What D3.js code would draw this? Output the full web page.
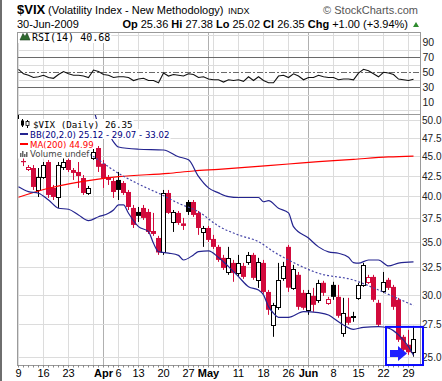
<!DOCTYPE html>
<html>
<head>
<meta charset="utf-8">
<script src="https://cdn.jsdelivr.net/npm/d3@7"></script>
<style>
	body { margin: 0; background: #fff; }
	svg { display: block; }
</style>
</head>
<body>
<div id="chart-area"></div>
<script>
// trading days shown on the chart
var dates = [
	"2009-03-09","2009-03-10","2009-03-11","2009-03-12","2009-03-13","2009-03-16","2009-03-17","2009-03-18","2009-03-19","2009-03-20",
	"2009-03-23","2009-03-24","2009-03-25","2009-03-26","2009-03-27","2009-03-30","2009-03-31","2009-04-01","2009-04-02","2009-04-03",
	"2009-04-06","2009-04-07","2009-04-08","2009-04-09","2009-04-13","2009-04-14","2009-04-15","2009-04-16","2009-04-17","2009-04-20",
	"2009-04-21","2009-04-22","2009-04-23","2009-04-24","2009-04-27","2009-04-28","2009-04-29","2009-04-30","2009-05-01","2009-05-04",
	"2009-05-05","2009-05-06","2009-05-07","2009-05-08","2009-05-11","2009-05-12","2009-05-13","2009-05-14","2009-05-15","2009-05-18",
	"2009-05-19","2009-05-20","2009-05-21","2009-05-22","2009-05-26","2009-05-27","2009-05-28","2009-05-29","2009-06-01","2009-06-02",
	"2009-06-03","2009-06-04","2009-06-05","2009-06-08","2009-06-09","2009-06-10","2009-06-11","2009-06-12","2009-06-15","2009-06-16",
	"2009-06-17","2009-06-18","2009-06-19","2009-06-22","2009-06-23","2009-06-24","2009-06-25","2009-06-26","2009-06-29","2009-06-30"
];

var opens = [
	48.8, 44.35, 43.33, 43.45, 40.75, 42.32, 44.22, 40.99, 39.92, 43.58,
	44.48, 43.20, 42.95, 42.20, 40.39, 44.74, 46.07, 44.00, 42.32, 41.83,
	41.96, 41.59, 40.51, 38.66, 38.21, 38.66, 38.21, 36.14, 35.41, 33.99,
	40.39, 37.11, 38.10, 36.95, 39.34, 39.34, 38.10, 36.04, 36.46, 35.31,
	34.50, 33.41, 32.06, 32.92, 31.97, 32.63, 33.02, 33.70, 31.33, 32.92,
	30.24, 27.47, 28.95, 31.51, 34.50, 30.60, 31.79, 30.16, 28.70, 29.89,
	29.55, 31.06, 29.29, 30.87, 29.81, 26.83, 28.12, 28.08, 29.72, 30.87,
	31.15, 31.60, 29.29, 30.33, 31.33, 30.69, 29.55, 26.52, 25.91, 25.36
];

var highs = [
	51.9, 45.80, 43.83, 43.83, 43.45, 44.22, 44.48, 41.35, 44.22, 44.74,
	44.87, 43.45, 44.22, 42.57, 41.23, 46.34, 46.34, 44.48, 42.57, 42.20,
	42.95, 41.83, 40.75, 39.00, 38.77, 39.00, 38.55, 38.10, 35.63, 40.75,
	40.75, 38.43, 38.32, 37.55, 39.57, 39.57, 38.32, 36.68, 36.68, 35.73,
	34.70, 33.70, 34.50, 33.21, 33.70, 32.92, 33.99, 33.90, 33.41, 33.21,
	30.42, 29.29, 32.92, 33.02, 34.70, 32.73, 32.06, 30.42, 30.42, 30.60,
	31.33, 31.24, 29.81, 31.15, 30.87, 29.72, 29.72, 28.53, 31.06, 32.92,
	31.79, 31.79, 29.55, 32.06, 31.51, 30.87, 29.72, 26.67, 27.07, 27.38
];

var lows = [
	48.3, 43.70, 43.07, 40.75, 39.92, 42.08, 39.81, 39.57, 38.66, 43.20,
	42.95, 41.96, 40.99, 40.16, 40.16, 44.48, 42.95, 40.99, 41.35, 39.81,
	39.57, 40.16, 38.43, 36.46, 37.11, 37.33, 35.83, 35.63, 33.70, 33.70,
	37.99, 36.04, 36.79, 36.25, 37.88, 37.66, 35.73, 34.50, 35.00, 34.29,
	33.02, 32.25, 31.79, 31.15, 31.60, 31.42, 32.73, 31.33, 30.60, 30.07,
	28.28, 26.52, 28.70, 31.24, 30.24, 30.42, 28.70, 28.70, 28.28, 28.53,
	29.29, 29.89, 29.12, 29.55, 28.04, 26.52, 27.47, 27.71, 29.55, 30.69,
	30.96, 29.38, 27.31, 30.16, 30.42, 28.70, 26.13, 25.16, 25.16, 25.02
];

var closes = [
	49.68, 44.22, 43.58, 41.11, 42.32, 43.83, 40.16, 39.92, 43.83, 44.22,
	43.20, 42.83, 42.45, 40.39, 40.99, 45.54, 43.60, 42.20, 41.96, 40.51,
	40.75, 40.39, 38.77, 36.79, 37.77, 37.55, 36.04, 35.83, 33.94, 40.39,
	38.10, 38.21, 37.00, 36.68, 38.21, 37.88, 36.46, 36.51, 35.21, 34.50,
	33.21, 32.44, 33.41, 31.97, 32.92, 31.60, 33.70, 31.51, 33.02, 30.24,
	28.70, 29.12, 31.33, 32.63, 30.62, 32.35, 28.95, 28.87, 30.16, 29.12,
	31.06, 30.16, 29.63, 29.81, 28.20, 28.45, 27.63, 28.16, 30.87, 32.73,
	31.60, 29.55, 27.47, 31.15, 30.60, 28.95, 26.29, 25.53, 25.35, 26.35
];

var rsi14 = [
	54, 48, 46, 43, 44, 46, 43, 42, 47, 51,
	48, 46, 46, 45, 43, 53, 51, 47, 46, 43,
	44, 44, 43, 39, 41, 42, 39, 39, 36, 49,
	45, 47, 46, 45, 48, 47, 43, 44, 41, 40,
	40, 37, 40, 39, 40, 38, 44, 39, 44, 39,
	36, 36, 45, 46, 43, 48, 45, 40, 43, 43,
	46, 44, 43, 43, 40, 41, 41, 40, 49, 54,
	52, 48, 44, 50, 49, 47, 41, 40, 39, 40.68
];

// Bollinger bands (20,2.0) and 200 day moving average, [day index, value]
var bbUpper = [
	[0,58],[8,56],[14,53],[15,51.6],[16,49.3],[18,48.1],[19,46.9],[20,46.2],[24,45.9],[29,45.8],
	[32,44.9],[34,44.5],[36,42.4],[38,41.0],[40,40.4],[42,39.96],[44,39.86],[48,39.86],[49,39.37],[50,39.49],
	[52,38.63],[54,38.1],[55,36.6],[58,35.4],[60,34.5],[62,34.0],[64,33.86],[66,33.47],[67,32.94],[68,32.89],
	[70,33.2],[72,33.2],[74,32.63],[76,32.9],[79,33.02]
];
var bbMiddle = [
	[0,48.5],[8,47.5],[15,44.92],[20,42.78],[24,41.46],[26,40.89],[28,40.36],[32,39.19],[36,38.24],[40,36.67],
	[44,35.72],[48,35.03],[51,34.02],[54,33.2],[60,31.94],[67,31.31],[72,30.41],[75,29.83],[79,29.07]
];
var bbLower = [
	[0,41.14],[2,40.55],[4,40.36],[6,39.57],[8,38.63],[10,38.51],[12,37.87],[14,37.25],[16,37.68],[18,38.06],
	[19,38.43],[20,39.0],[21,39.0],[22,38.06],[24,36.6],[26,36.07],[27,34.86],[28,34.02],[30,33.88],[32,33.65],
	[33,33.2],[35,33.7],[36,34.02],[38,34.09],[40,33.45],[42,32.56],[44,31.62],[46,30.71],[48,30.41],[49,29.98],
	[50,28.97],[51,28.41],[52,28.08],[54,28.08],[57,28.55],[60,28.46],[62,28.27],[63,28.0],[65,27.46],[67,27.11],
	[69,27.27],[72,27.32],[74,27.2],[76,26.67],[78,25.77],[79,25.12]
];
var ma200 = [
	[0,39.89],[6,40.95],[16,42.07],[20,42.36],[30,42.78],[35,43.07],[40,43.28],[54,43.96],[60,44.26],[67,44.57],
	[74,44.88],[79,44.99]
];

var priceTicks = [25, 27.5, 30, 32.5, 35, 37.5, 40, 42.5, 45, 47.5, 50];
var rsiTicks = [10, 30, 50, 70, 90];
var rsiGrid = [0, 20, 40, 60, 80, 100];
var tickIndex = [0, 5, 10, 17, 20, 24, 29, 34, 38, 44, 49, 54, 58, 63, 68, 73, 78];
var tickText = ["9", "16", "23", "Apr", "6", "13", "20", "27", "May", "11", "18", "26", "Jun", "8", "15", "22", "29"];

const svgWidth = 442;
const svgHeight = 381;
const plotLeft = 17, plotRight = 420;
const rsiTop = 32, rsiBottom = 114;
const priceTop = 114, priceBottom = 365;
const red = "#d20a3c";
const navy = "#24248f";

var last = closes.length - 1;

var canvas = d3.select("#chart-area").append("svg")
	.attr("width", svgWidth)
	.attr("height", svgHeight)
	.style("font-family", "'Liberation Sans', Arial, sans-serif");

canvas.append("rect")
	.attr("x", 0).attr("y", 0)
	.attr("width", 2).attr("height", svgHeight)
	.attr("fill", "#6e6e6e");

var xScale = d3.scaleLinear()
	.domain([0, last])
	.range([18.5, 18.5 + 5 * last]);

var yScale = d3.scaleLog()
	.domain([50, 25])
	.range([120, 357]);

var rsiScale = d3.scaleLinear()
	.domain([0, 100])
	.range([109.8, 34.8]);

// ---- header
canvas.append("text")
	.attr("x", 17).attr("y", 14)
	.attr("font-size", 13).attr("font-weight", "bold")
	.text("$VIX");
canvas.append("text")
	.attr("x", 48).attr("y", 14)
	.attr("font-size", 11)
	.text("(Volatility Index - New Methodology)");
canvas.append("text")
	.attr("x", 228).attr("y", 14)
	.attr("font-size", 9)
	.text("INDX");
canvas.append("text")
	.attr("x", 418).attr("y", 14)
	.attr("text-anchor", "end")
	.attr("font-size", 11)
	.attr("fill", "#555")
	.text("\u00a9 StockCharts.com");

canvas.append("text")
	.attr("x", 17).attr("y", 27.5)
	.attr("font-size", 11)
	.text("30-Jun-2009");

var chg = closes[last] - closes[last - 1];
var quoteLabels = ["Op", "Hi", "Lo", "Cl", "Chg"];
var quoteValues = [
	opens[last].toFixed(2), highs[last].toFixed(2), lows[last].toFixed(2), closes[last].toFixed(2),
	d3.format("+.2f")(chg) + " (" + d3.format("+.2f")(chg / closes[last - 1] * 100) + "%)"
];
var quote = canvas.append("text")
	.attr("x", 408).attr("y", 27.5)
	.attr("text-anchor", "end")
	.attr("font-size", 11);
quoteLabels.forEach((lab, i) => {
	quote.append("tspan").attr("font-weight", "bold").text((i ? " " : "") + lab + " ");
	quote.append("tspan").text(quoteValues[i]);
});
canvas.append("path")
	.attr("d", "M413,27 L416,22 L419,27 Z")
	.attr("fill", "#2e8b2e");

// ---- grid lines
var days = dates.map(d3.timeParse("%Y-%m-%d"));
var weekStarts = [], monthStarts = [];
days.forEach((d, i) => {
	if (i == 0 || d.getDay() < days[i - 1].getDay()) weekStarts.push(i);
	if (i > 0 && d.getMonth() != days[i - 1].getMonth()) monthStarts.push(i);
});

[[rsiTop, rsiBottom], [priceTop, priceBottom]].forEach(p => {
	canvas.append("g").selectAll("line").data(weekStarts).enter()
		.append("line")
		.attr("x1", d => xScale(d)).attr("x2", d => xScale(d))
		.attr("y1", p[0]).attr("y2", p[1])
		.attr("stroke", "#dcdcdc");
	canvas.append("g").selectAll("line").data(monthStarts).enter()
		.append("line")
		.attr("x1", d => xScale(d)).attr("x2", d => xScale(d))
		.attr("y1", p[0]).attr("y2", p[1])
		.attr("stroke", "#b0b0b0");
});

canvas.append("g").selectAll("line").data(rsiGrid).enter()
	.append("line")
	.attr("x1", plotLeft).attr("x2", plotRight)
	.attr("y1", d => Math.round(rsiScale(d)) + 0.5).attr("y2", d => Math.round(rsiScale(d)) + 0.5)
	.attr("stroke", "#dcdcdc");

canvas.append("g").selectAll("line").data([30, 50, 70]).enter()
	.append("line")
	.attr("x1", plotLeft).attr("x2", plotRight)
	.attr("y1", d => Math.round(rsiScale(d)) + 0.5).attr("y2", d => Math.round(rsiScale(d)) + 0.5)
	.attr("stroke", "#6a6a6a")
	.attr("stroke-dasharray", d => d == 50 ? "6,2,2,2" : null);

canvas.append("g").selectAll("line").data(priceTicks).enter()
	.append("line")
	.attr("x1", plotLeft).attr("x2", plotRight)
	.attr("y1", d => Math.round(yScale(d)) + 0.5).attr("y2", d => Math.round(yScale(d)) + 0.5)
	.attr("stroke", "#dcdcdc");

// ---- right axis labels (kept narrow enough to fit the window)
canvas.append("g").selectAll("text").data(rsiTicks).enter()
	.append("text")
	.attr("x", 422.5).attr("y", d => rsiScale(d) + 4)
	.attr("font-size", 10.5).attr("fill", "#222")
	.text(d => d);

canvas.append("g").selectAll("text").data(priceTicks).enter()
	.append("text")
	.attr("x", 422).attr("y", d => yScale(d) + 4)
	.attr("font-size", 10).attr("fill", "#222")
	.attr("textLength", 19.5).attr("lengthAdjust", "spacingAndGlyphs")
	.text(d => d3.format(".1f")(d));

// ---- RSI line
canvas.append("path")
	.datum(rsi14)
	.attr("fill", "none")
	.attr("stroke", "#111")
	.attr("stroke-width", 1.1)
	.attr("d", d3.line().x((d, i) => xScale(i)).y(d => rsiScale(d)));

// ---- price panel
canvas.append("defs").append("clipPath")
	.attr("id", "priceClip")
	.append("rect")
	.attr("x", plotLeft).attr("y", priceTop)
	.attr("width", plotRight - plotLeft).attr("height", priceBottom - priceTop);

var chart = canvas.append("g").attr("clip-path", "url(#priceClip)");

var candles = chart.selectAll("g.candle").data(closes).enter()
	.append("g")
	.attr("class", "candle")
	.each(function (c, i) {
		var o = opens[i];
		var prev = i > 0 ? closes[i - 1] : o;
		var color = c >= prev ? "#000" : red;
		var hollow = c > o;
		var x = xScale(i);
		var top = yScale(Math.max(o, c)), bot = yScale(Math.min(o, c));
		var g = d3.select(this);
		g.append("line")
			.attr("x1", x).attr("x2", x)
			.attr("y1", yScale(highs[i])).attr("y2", yScale(lows[i]))
			.attr("stroke", color);
		if (hollow) {
			g.append("rect")
				.attr("x", x - 2).attr("y", Math.round(top) + 0.5)
				.attr("width", 4).attr("height", Math.max(1, Math.round(bot - top)))
				.attr("fill", "#fff")
				.attr("stroke", color);
		} else {
			g.append("rect")
				.attr("x", x - 2.5).attr("y", top)
				.attr("width", 5).attr("height", Math.max(1.2, bot - top))
				.attr("fill", color);
		}
	});

var bandLine = d3.line()
	.x(d => xScale(d[0]))
	.y(d => yScale(d[1]))
	.curve(d3.curveMonotoneX);

chart.append("path").datum(ma200)
	.attr("fill", "none").attr("stroke", "#ff0000").attr("stroke-width", 1.2)
	.attr("d", bandLine);
chart.append("path").datum(bbMiddle)
	.attr("fill", "none").attr("stroke", "#4646a8").attr("stroke-width", 1.2)
	.attr("stroke-dasharray", "2,2")
	.attr("d", bandLine);
[bbUpper, bbLower].forEach(b => {
	chart.append("path").datum(b)
		.attr("fill", "none").attr("stroke", navy).attr("stroke-width", 1.2)
		.attr("d", bandLine);
});

// ---- frames
canvas.append("rect")
	.attr("x", plotLeft + 0.5).attr("y", rsiTop + 0.5)
	.attr("width", plotRight - plotLeft).attr("height", rsiBottom - rsiTop)
	.attr("fill", "none").attr("stroke", "#9a9a9a");
canvas.append("rect")
	.attr("x", plotLeft + 0.5).attr("y", priceTop + 0.5)
	.attr("width", plotRight - plotLeft).attr("height", priceBottom - priceTop)
	.attr("fill", "none").attr("stroke", "#9a9a9a");

// ---- x axis
canvas.append("g").selectAll("line").data(closes).enter()
	.append("line")
	.attr("x1", (d, i) => xScale(i)).attr("x2", (d, i) => xScale(i))
	.attr("y1", priceBottom).attr("y2", priceBottom + 2.5)
	.attr("stroke", "#888");

canvas.append("g").selectAll("text").data(tickIndex).enter()
	.append("text")
	.attr("x", d => xScale(d))
	.attr("y", 377)
	.attr("text-anchor", "middle")
	.attr("font-size", 11)
	.attr("font-weight", (d, i) => isNaN(+tickText[i]) ? "bold" : "normal")
	.text((d, i) => tickText[i]);

// ---- legends
var rsiLegend = canvas.append("g");
var rsiText = rsiLegend.append("text")
	.attr("x", 32).attr("y", 41)
	.attr("font-family", "'DejaVu Sans Mono', monospace")
	.attr("font-size", 10)
	.text("RSI(14) " + rsi14[last].toFixed(2));
rsiLegend.insert("rect", "text")
	.attr("x", 18).attr("y", 33)
	.attr("width", 15 + rsiText.node().getComputedTextLength()).attr("height", 10)
	.attr("fill", "#fff");
rsiLegend.append("path")
	.attr("d", "M20,40 L23,33.5 L25,36.5 L27,33 L30,40 Z")
	.attr("fill", "#2f6b2f").attr("stroke", "#1d3d1d").attr("stroke-width", 0.6);

var legendRows = [
	{ text: "$VIX (Daily) " + closes[last].toFixed(2), color: "#000", mono: true, y: 127.5 },
	{ text: "BB(20,2.0) " + bbLower[bbLower.length - 1][1].toFixed(2) + " - " + bbMiddle[bbMiddle.length - 1][1].toFixed(2) + " - " + bbUpper[bbUpper.length - 1][1].toFixed(2), color: "#000080", mono: false, y: 137.5 },
	{ text: "MA(200) " + ma200[ma200.length - 1][1].toFixed(2), color: "#ff0000", mono: false, y: 147.5 },
	{ text: "Volume undef", color: "#444", mono: false, y: 157 }
];

var legend = canvas.append("g");
legendRows.forEach((row, i) => {
	var g = legend.append("g");
	var t = g.append("text")
		.attr("x", row.mono ? 33 : 30).attr("y", row.y)
		.attr("fill", row.color)
		.attr("font-family", row.mono ? "'DejaVu Sans Mono', monospace" : "'DejaVu Sans', Verdana, sans-serif")
		.attr("font-size", row.mono ? 9.2 : 8.6)
		.text(row.text);
	g.insert("rect", "text")
		.attr("x", plotLeft + 1).attr("y", row.y - 8.5)
		.attr("width", (row.mono ? 16 : 13) + t.node().getComputedTextLength()).attr("height", 10)
		.attr("fill", "#fff");
});
// legend icons
legend.append("line").attr("x1", 22.5).attr("x2", 22.5).attr("y1", 119).attr("y2", 127).attr("stroke", "#000");
legend.append("rect").attr("x", 21).attr("y", 120.5).attr("width", 3).attr("height", 5).attr("fill", "#000");
legend.append("line").attr("x1", 27.5).attr("x2", 27.5).attr("y1", 120).attr("y2", 128).attr("stroke", "#000");
legend.append("rect").attr("x", 26).attr("y", 121.5).attr("width", 3).attr("height", 4).attr("fill", "#fff").attr("stroke", "#000").attr("stroke-width", 0.8);
legend.append("line").attr("x1", 20).attr("x2", 28).attr("y1", 134).attr("y2", 134).attr("stroke", navy).attr("stroke-width", 2);
legend.append("line").attr("x1", 20).attr("x2", 28).attr("y1", 144).attr("y2", 144).attr("stroke", "#ff0000").attr("stroke-width", 2);
[[20, 4], [22, 6], [24, 3], [26, 5]].forEach(b => {
	legend.append("rect").attr("x", b[0]).attr("y", 157 - b[1]).attr("width", 1.5).attr("height", b[1]).attr("fill", "#666");
});

// ---- highlight box and arrow
canvas.append("rect")
	.attr("x", xScale(73.5)).attr("y", yScale(27.3))
	.attr("width", xScale(80.9) - xScale(73.5)).attr("height", yScale(24.42) - yScale(27.3))
	.attr("fill", "none")
	.attr("stroke", "#0a0aff")
	.attr("stroke-width", 2);
canvas.append("path")
	.attr("d", "M390,350 L398,350 L398,346 L407,353.5 L398,361 L398,357 L390,357 Z")
	.attr("fill", "#1f1fff");
</script>
</body>
</html>
